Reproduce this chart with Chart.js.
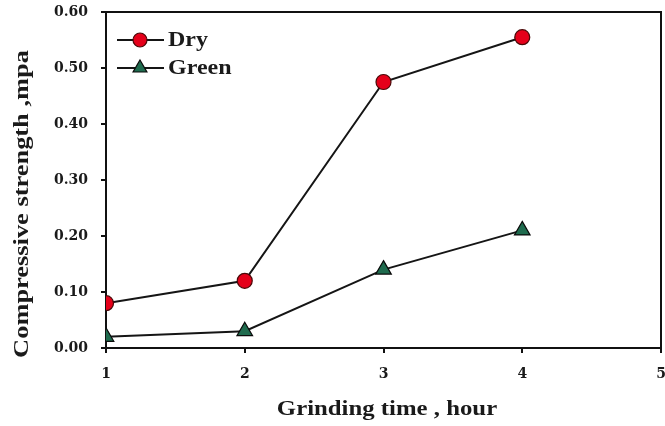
<!DOCTYPE html>
<html>
<head>
<meta charset="utf-8">
<script src="https://cdn.jsdelivr.net/npm/chart.js@4.4.1/dist/chart.umd.min.js"></script>
<style>
  html, body { margin: 0; padding: 0; background: #fff; }
  #wrap { width: 665px; height: 426px; }
</style>
</head>
<body>
<div id="wrap"><canvas id="c" width="665" height="426"></canvas></div>
<script>
// Grinding time (hours) and compressive strength (MPa)
const hours = [1, 2, 3, 4];
const dryStrength = [0.08, 0.12, 0.475, 0.555];
const greenStrength = [0.02, 0.03, 0.14, 0.21];
const yTicks = [0, 0.1, 0.2, 0.3, 0.4, 0.5, 0.6];
const xTicks = [1, 2, 3, 4, 5];

const SERIF = '"Liberation Serif", "Times New Roman", serif';
const TICK_FONT = '"DejaVu Serif", serif';
const INK = '#1a1a1a';

function toPoints(xs, ys) {
  return xs.map((x, i) => ({ x: x, y: ys[i] }));
}

// Text drawn a little wider than the face's natural width
function wideText(ctx, text, x, y, size, stretch, align, angle) {
  ctx.save();
  ctx.translate(x, y);
  if (angle) ctx.rotate(angle);
  ctx.scale(stretch, 1);
  ctx.font = 'bold ' + size + 'px ' + SERIF;
  ctx.fillStyle = INK;
  ctx.textAlign = align;
  ctx.textBaseline = 'middle';
  ctx.fillText(text, 0, 0);
  ctx.restore();
}

// Box around the plot area, axis titles and inset legend
const framePlugin = {
  id: 'frame',
  beforeDatasetsDraw(chart) {
    const { ctx, chartArea: a } = chart;
    ctx.save();
    ctx.strokeStyle = '#111';
    ctx.lineWidth = 2;
    ctx.strokeRect(a.left, a.top, a.right - a.left, a.bottom - a.top);
    ctx.restore();
  },
  afterDraw(chart) {
    const { ctx } = chart;
    wideText(ctx, 'Compressive strength ,mpa', 22, 204, 22, 1.2, 'center', -Math.PI / 2);
    wideText(ctx, 'Grinding time , hour', 387, 410, 21, 1.18, 'center', 0);

    chart.data.datasets.forEach((ds, i) => {
      const y = 40 + i * 28;
      ctx.save();
      ctx.strokeStyle = ds.borderColor;
      ctx.lineWidth = 2;
      ctx.beginPath();
      ctx.moveTo(117, y);
      ctx.lineTo(164, y);
      ctx.stroke();
      ctx.fillStyle = ds.pointBackgroundColor;
      ctx.strokeStyle = ds.pointBorderColor;
      ctx.lineWidth = ds.pointBorderWidth;
      Chart.helpers.drawPoint(ctx, {
        pointStyle: ds.pointStyle,
        radius: ds.pointStyle === 'circle' ? 7 : 8,
        borderWidth: ds.pointBorderWidth,
        rotation: 0
      }, 140, y);
      ctx.restore();
      wideText(ctx, ds.label, 168, y + 1, 20, 1.2, 'left', 0);
    });
  }
};

new Chart(document.getElementById('c'), {
  type: 'scatter',
  data: {
    datasets: [
      {
        label: 'Dry',
        data: toPoints(hours, dryStrength),
        showLine: true,
        borderColor: '#151515',
        borderWidth: 2,
        pointStyle: 'circle',
        pointRadius: 7.5,
        pointHoverRadius: 7.5,
        pointBackgroundColor: '#e5001a',
        pointBorderColor: '#4a0808',
        pointBorderWidth: 1.2
      },
      {
        label: 'Green',
        data: toPoints(hours, greenStrength),
        showLine: true,
        borderColor: '#151515',
        borderWidth: 2,
        pointStyle: 'triangle',
        pointRadius: 9,
        pointHoverRadius: 9,
        pointBackgroundColor: '#1f6b4e',
        pointBorderColor: '#0a0a0a',
        pointBorderWidth: 1.2
      }
    ]
  },
  options: {
    responsive: false,
    animation: false,
    events: [],
    layout: { autoPadding: false, padding: { top: 12, right: 4, left: 0, bottom: 0 } },
    plugins: { legend: { display: false }, tooltip: { enabled: false } },
    scales: {
      x: {
        type: 'linear',
        min: 1,
        max: 5,
        afterBuildTicks(scale) { scale.ticks = xTicks.map(v => ({ value: v })); },
        afterFit(scale) {
          scale.height = 78;
          scale.paddingLeft = 0;
          scale.paddingRight = 0;
        },
        border: { display: true, color: '#111', width: 2 },
        grid: { drawOnChartArea: false, tickLength: 5, color: '#111', lineWidth: 2 },
        ticks: {
          color: INK,
          padding: 13,
          maxRotation: 0,
          font: { family: TICK_FONT, size: 14, weight: 'bold' },
          callback: v => String(v)
        }
      },
      y: {
        min: 0,
        max: 0.6,
        afterBuildTicks(scale) { scale.ticks = yTicks.map(v => ({ value: v })); },
        afterFit(scale) {
          scale.width = 106;
          scale.paddingTop = 0;
          scale.paddingBottom = 0;
        },
        border: { display: true, color: '#111', width: 2 },
        grid: { drawOnChartArea: false, tickLength: 5, color: '#111', lineWidth: 2 },
        ticks: {
          color: INK,
          padding: 13,
          font: { family: TICK_FONT, size: 14, weight: 'bold' },
          callback: v => v.toFixed(2)
        }
      }
    }
  },
  plugins: [framePlugin]
});
</script>
</body>
</html>
